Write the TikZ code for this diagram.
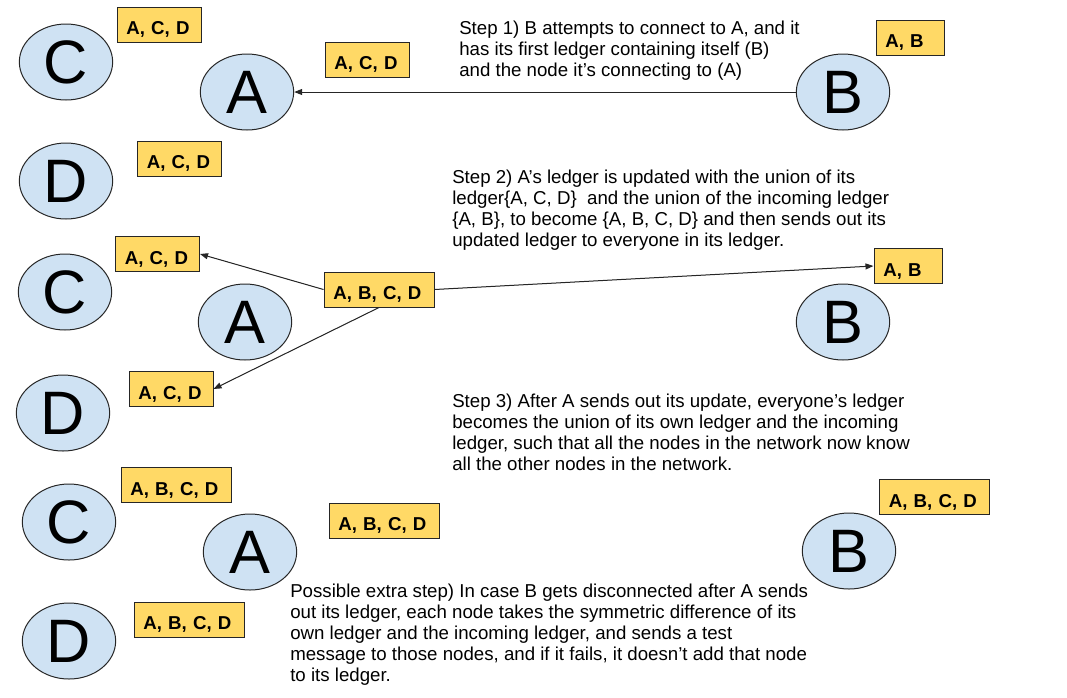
\documentclass[tikz,border=0pt]{standalone}
\usepackage{fontspec}
\setmainfont{Liberation Sans}
\usetikzlibrary{shapes.geometric,arrows.meta}
\definecolor{nodeblue}{HTML}{CFE2F3}
\definecolor{ledgeryellow}{HTML}{FFD966}
\begin{document}
\begin{tikzpicture}[x=0.75pt,y=-0.75pt,
  peer/.style={ellipse, draw=black!85, line width=0.75pt, fill=nodeblue,
    minimum width=70pt, minimum height=57pt, inner sep=0pt,
    font=\fontsize{46}{46}\selectfont},
  ledger/.style={rectangle, draw=black!85, line width=0.75pt, fill=ledgeryellow,
    inner xsep=7pt, inner ysep=0pt, minimum height=26.25pt, align=left,
    text height=15pt, text depth=0pt,
    font=\fontsize{14}{16}\selectfont\bfseries},
  wthree/.style={ledger, text width=49pt},
  wtwo/.style={ledger, text width=37pt},
  wfour/.style={ledger, text width=68.5pt},
  msg/.style={-{Triangle[length=6pt,width=4.5pt]}, line width=0.75pt, draw=black!85, fill=black!85},
  note/.style={anchor=north west, inner sep=0pt, align=left,
    font=\fontsize{14}{15.75}\selectfont}]
\useasboundingbox (0,0) rectangle (1067,697);

% Row 1
\node[peer] (C1) at (66,62) {C};
\node[peer] (A1) at (247,92) {A};
\node[peer] (D1) at (66,181) {D};
\node[peer] (B1) at (843,92) {B};
\node[wthree] (LC1) at (159,24.5) {A, C, D};
\node[wthree] (LA1) at (367,59.5) {A, C, D};
\node[wthree] (LD1) at (179.5,158.5) {A, C, D};
\node[wtwo] (LB1) at (910,37.5) {A, B};
\draw[msg] (B1) -- (A1);
\node[note] (S1) at (459,19.3) {\strut Step 1) B attempts to connect to A, and it\\
has its first ledger containing itself (B)\\
and the node it’s connecting to (A)};

% Row 2
\node[peer] (C2) at (65,292) {C};
\node[peer] (A2) at (245,322) {A};
\node[peer] (D2) at (63,413) {D};
\node[peer] (B2) at (843,322) {B};
\node[wthree] (LC2) at (157.5,254) {A, C, D};
\node[wthree] (LD2) at (171,389) {A, C, D};
\node[wfour] (LA2) at (379,289.5) {A, B, C, D};
\node[wtwo] (LB2) at (908,266) {A, B};
\draw[msg] (LA2.west) -- (LC2.east);
\draw[msg] (LA2.south) -- (LD2.east);
\draw[msg] (LA2.east) -- (LB2.west);
\node[note] (S2) at (452,168.3) {\strut Step 2) A’s ledger is updated with the union of its\\
ledger\{A, C, D\}\ \ and the union of the incoming ledger\\
\{A, B\}, to become \{A, B, C, D\} and then sends out its\\
updated ledger to everyone in its ledger.};

% Row 3
\node[peer] (C3) at (69,522) {C};
\node[peer] (A3) at (250,552) {A};
\node[peer] (D3) at (69,641) {D};
\node[peer] (B3) at (849,551) {B};
\node[wfour] (LC3) at (176,485) {A, B, C, D};
\node[wfour] (LA3) at (384,520.5) {A, B, C, D};
\node[wfour] (LD3) at (189,619.5) {A, B, C, D};
\node[wfour] (LB3) at (934.5,497) {A, B, C, D};
\node[note] (S3) at (452,392.3) {\strut Step 3) After A sends out its update, everyone’s ledger\\
becomes the union of its own ledger and the incoming\\
ledger, such that all the nodes in the network now know\\
all the other nodes in the network.};
\node[note] (S4) at (290,582.3) {\strut Possible extra step) In case B gets disconnected after A sends\\
out its ledger, each node takes the symmetric difference of its\\
own ledger and the incoming ledger, and sends a test\\
message to those nodes, and if it fails, it doesn’t add that node\\
to its ledger.};
\end{tikzpicture}
\end{document}
